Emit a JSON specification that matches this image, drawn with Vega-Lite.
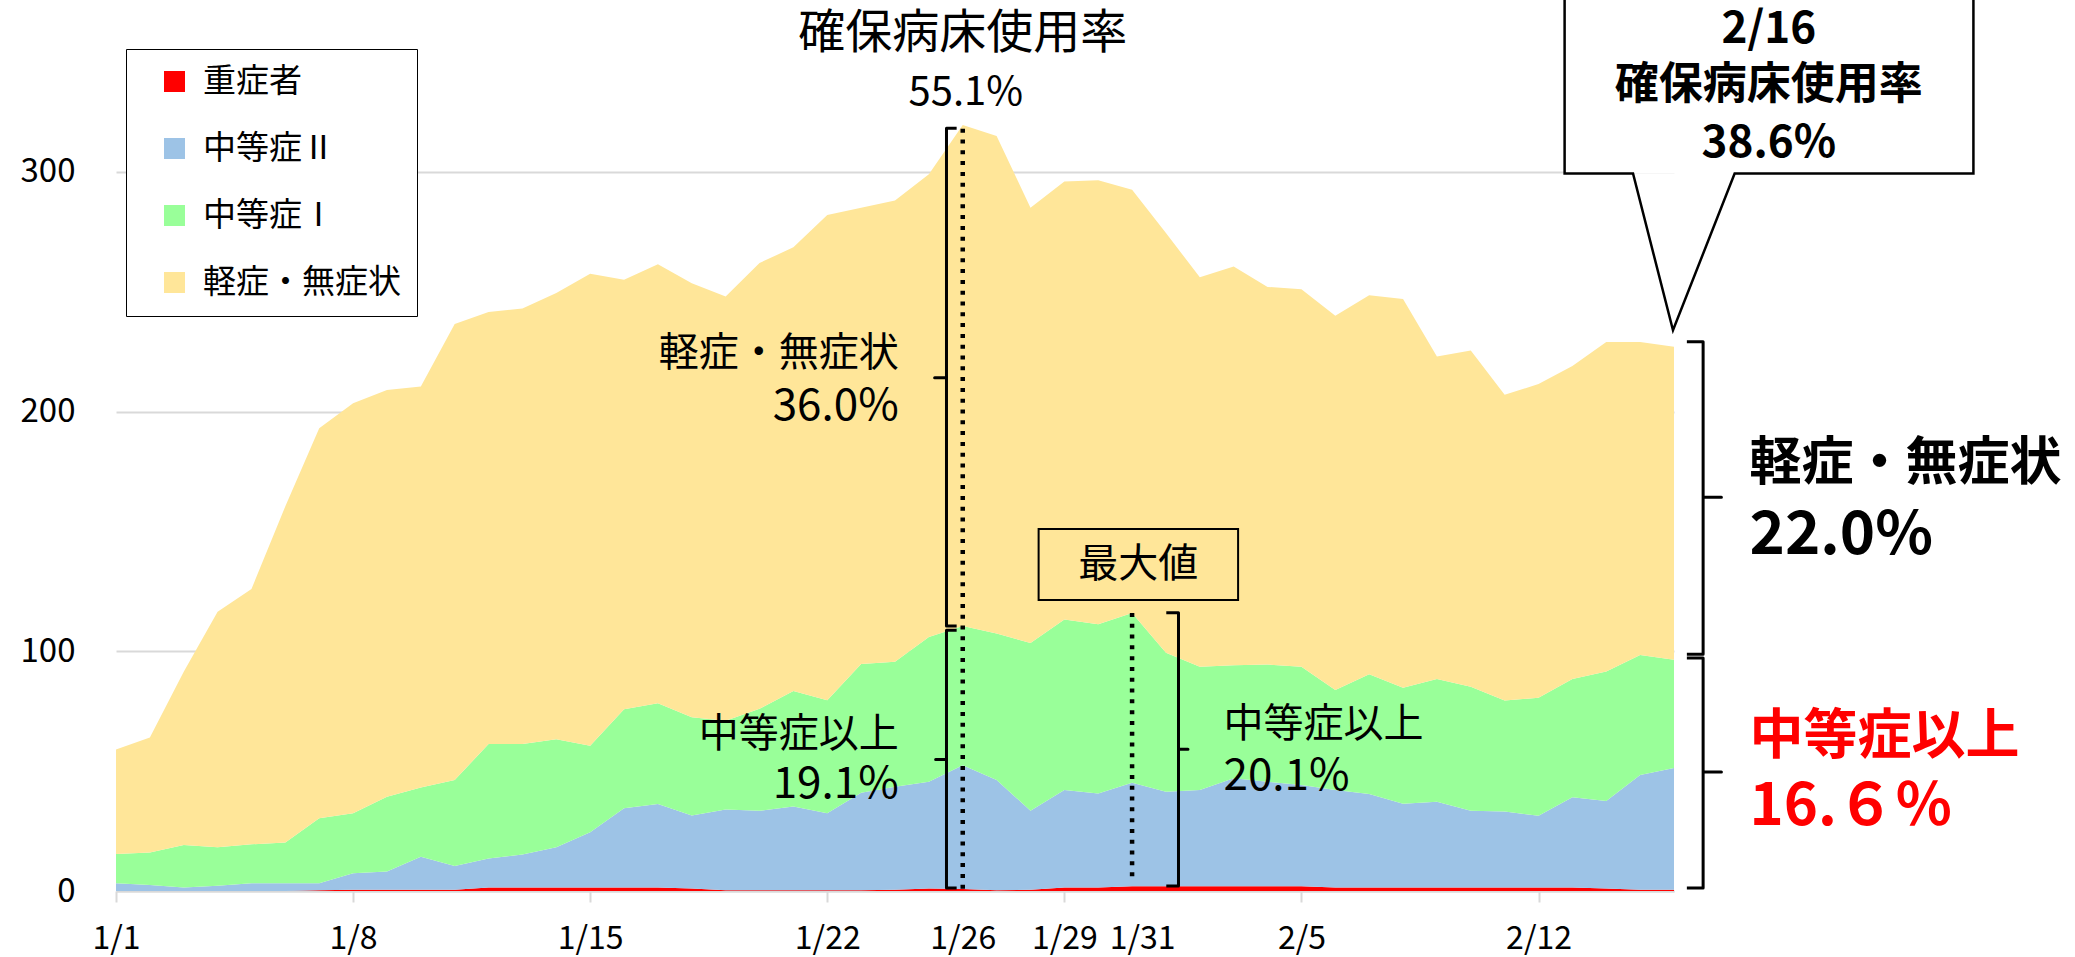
{
  "$schema": "https://vega.github.io/schema/vega-lite/v6.json",
  "width": 1558,
  "height": 839,
  "autosize": {"type": "none"},
  "padding": {"left": 116, "top": 52, "right": 401, "bottom": 66},
  "background": "white",
  "config": {
    "view": {"stroke": null},
    "font": "Noto Sans CJK JP"
  },
  "layer": [
    {
      "data": {"values": [
        {"date":"2022-01-01","category":"重症者","value":0},{"date":"2022-01-01","category":"中等症Ⅱ","value":3.2},{"date":"2022-01-01","category":"中等症Ⅰ","value":12.2},{"date":"2022-01-01","category":"軽症・無症状","value":43.6},
        {"date":"2022-01-02","category":"重症者","value":0},{"date":"2022-01-02","category":"中等症Ⅱ","value":2.5},{"date":"2022-01-02","category":"中等症Ⅰ","value":13.6},{"date":"2022-01-02","category":"軽症・無症状","value":47.9},
        {"date":"2022-01-03","category":"重症者","value":0},{"date":"2022-01-03","category":"中等症Ⅱ","value":1.5},{"date":"2022-01-03","category":"中等症Ⅰ","value":17.7},{"date":"2022-01-03","category":"軽症・無症状","value":72.3},
        {"date":"2022-01-04","category":"重症者","value":0},{"date":"2022-01-04","category":"中等症Ⅱ","value":2.2},{"date":"2022-01-04","category":"中等症Ⅰ","value":16.0},{"date":"2022-01-04","category":"軽症・無症状","value":98.3},
        {"date":"2022-01-05","category":"重症者","value":0},{"date":"2022-01-05","category":"中等症Ⅱ","value":3.2},{"date":"2022-01-05","category":"中等症Ⅰ","value":16.3},{"date":"2022-01-05","category":"軽症・無症状","value":106.5},
        {"date":"2022-01-06","category":"重症者","value":0},{"date":"2022-01-06","category":"中等症Ⅱ","value":3.2},{"date":"2022-01-06","category":"中等症Ⅰ","value":17.0},{"date":"2022-01-06","category":"軽症・無症状","value":140.3},
        {"date":"2022-01-07","category":"重症者","value":0.3},{"date":"2022-01-07","category":"中等症Ⅱ","value":2.9},{"date":"2022-01-07","category":"中等症Ⅰ","value":27.1},{"date":"2022-01-07","category":"軽症・無症状","value":162.7},
        {"date":"2022-01-08","category":"重症者","value":0.5},{"date":"2022-01-08","category":"中等症Ⅱ","value":6.9},{"date":"2022-01-08","category":"中等症Ⅰ","value":25.0},{"date":"2022-01-08","category":"軽症・無症状","value":171.1},
        {"date":"2022-01-09","category":"重症者","value":0.5},{"date":"2022-01-09","category":"中等症Ⅱ","value":7.6},{"date":"2022-01-09","category":"中等症Ⅰ","value":31.2},{"date":"2022-01-09","category":"軽症・無症状","value":169.7},
        {"date":"2022-01-10","category":"重症者","value":0.5},{"date":"2022-01-10","category":"中等症Ⅱ","value":13.8},{"date":"2022-01-10","category":"中等症Ⅰ","value":28.9},{"date":"2022-01-10","category":"軽症・無症状","value":167.3},
        {"date":"2022-01-11","category":"重症者","value":0.5},{"date":"2022-01-11","category":"中等症Ⅱ","value":9.9},{"date":"2022-01-11","category":"中等症Ⅰ","value":35.9},{"date":"2022-01-11","category":"軽症・無症状","value":190.2},
        {"date":"2022-01-12","category":"重症者","value":1.5},{"date":"2022-01-12","category":"中等症Ⅱ","value":12.1},{"date":"2022-01-12","category":"中等症Ⅰ","value":47.7},{"date":"2022-01-12","category":"軽症・無症状","value":180.2},
        {"date":"2022-01-13","category":"重症者","value":1.5},{"date":"2022-01-13","category":"中等症Ⅱ","value":13.7},{"date":"2022-01-13","category":"中等症Ⅰ","value":46.1},{"date":"2022-01-13","category":"軽症・無症状","value":181.7},
        {"date":"2022-01-14","category":"重症者","value":1.5},{"date":"2022-01-14","category":"中等症Ⅱ","value":16.7},{"date":"2022-01-14","category":"中等症Ⅰ","value":45.1},{"date":"2022-01-14","category":"軽症・無症状","value":186.2},
        {"date":"2022-01-15","category":"重症者","value":1.5},{"date":"2022-01-15","category":"中等症Ⅱ","value":23.0},{"date":"2022-01-15","category":"中等症Ⅰ","value":36.1},{"date":"2022-01-15","category":"軽症・無症状","value":196.9},
        {"date":"2022-01-16","category":"重症者","value":1.5},{"date":"2022-01-16","category":"中等症Ⅱ","value":33.0},{"date":"2022-01-16","category":"中等症Ⅰ","value":41.3},{"date":"2022-01-16","category":"軽症・無症状","value":179.2},
        {"date":"2022-01-17","category":"重症者","value":1.5},{"date":"2022-01-17","category":"中等症Ⅱ","value":34.8},{"date":"2022-01-17","category":"中等症Ⅰ","value":42.0},{"date":"2022-01-17","category":"軽症・無症状","value":183.2},
        {"date":"2022-01-18","category":"重症者","value":1.0},{"date":"2022-01-18","category":"中等症Ⅱ","value":30.5},{"date":"2022-01-18","category":"中等症Ⅰ","value":41.0},{"date":"2022-01-18","category":"軽症・無症状","value":181.0},
        {"date":"2022-01-19","category":"重症者","value":0.3},{"date":"2022-01-19","category":"中等症Ⅱ","value":33.7},{"date":"2022-01-19","category":"中等症Ⅰ","value":37.0},{"date":"2022-01-19","category":"軽症・無症状","value":177.0},
        {"date":"2022-01-20","category":"重症者","value":0.3},{"date":"2022-01-20","category":"中等症Ⅱ","value":33.2},{"date":"2022-01-20","category":"中等症Ⅰ","value":42.5},{"date":"2022-01-20","category":"軽症・無症状","value":186.0},
        {"date":"2022-01-21","category":"重症者","value":0.3},{"date":"2022-01-21","category":"中等症Ⅱ","value":35.0},{"date":"2022-01-21","category":"中等症Ⅰ","value":48.1},{"date":"2022-01-21","category":"軽症・無症状","value":185.1},
        {"date":"2022-01-22","category":"重症者","value":0.3},{"date":"2022-01-22","category":"中等症Ⅱ","value":32.1},{"date":"2022-01-22","category":"中等症Ⅰ","value":47.2},{"date":"2022-01-22","category":"軽症・無症状","value":202.4},
        {"date":"2022-01-23","category":"重症者","value":0.3},{"date":"2022-01-23","category":"中等症Ⅱ","value":40.7},{"date":"2022-01-23","category":"中等症Ⅰ","value":53.7},{"date":"2022-01-23","category":"軽症・無症状","value":190.3},
        {"date":"2022-01-24","category":"重症者","value":0.5},{"date":"2022-01-24","category":"中等症Ⅱ","value":43.0},{"date":"2022-01-24","category":"中等症Ⅰ","value":52.1},{"date":"2022-01-24","category":"軽症・無症状","value":192.4},
        {"date":"2022-01-25","category":"重症者","value":1.0},{"date":"2022-01-25","category":"中等症Ⅱ","value":44.6},{"date":"2022-01-25","category":"中等症Ⅰ","value":60.4},{"date":"2022-01-25","category":"軽症・無症状","value":193.0},
        {"date":"2022-01-26","category":"重症者","value":0.8},{"date":"2022-01-26","category":"中等症Ⅱ","value":51.7},{"date":"2022-01-26","category":"中等症Ⅰ","value":58.0},{"date":"2022-01-26","category":"軽症・無症状","value":209.0},
        {"date":"2022-01-27","category":"重症者","value":0.3},{"date":"2022-01-27","category":"中等症Ⅱ","value":46.0},{"date":"2022-01-27","category":"中等症Ⅰ","value":61.1},{"date":"2022-01-27","category":"軽症・無症状","value":207.6},
        {"date":"2022-01-28","category":"重症者","value":0.5},{"date":"2022-01-28","category":"中等症Ⅱ","value":33.0},{"date":"2022-01-28","category":"中等症Ⅰ","value":70.0},{"date":"2022-01-28","category":"軽症・無症状","value":181.5},
        {"date":"2022-01-29","category":"重症者","value":1.5},{"date":"2022-01-29","category":"中等症Ⅱ","value":40.6},{"date":"2022-01-29","category":"中等症Ⅰ","value":71.2},{"date":"2022-01-29","category":"軽症・無症状","value":182.7},
        {"date":"2022-01-30","category":"重症者","value":1.5},{"date":"2022-01-30","category":"中等症Ⅱ","value":39.2},{"date":"2022-01-30","category":"中等症Ⅰ","value":70.6},{"date":"2022-01-30","category":"軽症・無症状","value":185.2},
        {"date":"2022-01-31","category":"重症者","value":2.0},{"date":"2022-01-31","category":"中等症Ⅱ","value":43.2},{"date":"2022-01-31","category":"中等症Ⅰ","value":70.8},{"date":"2022-01-31","category":"軽症・無症状","value":176.5},
        {"date":"2022-02-01","category":"重症者","value":2.0},{"date":"2022-02-01","category":"中等症Ⅱ","value":39.4},{"date":"2022-02-01","category":"中等症Ⅰ","value":58.0},{"date":"2022-02-01","category":"軽症・無症状","value":175.1},
        {"date":"2022-02-02","category":"重症者","value":2.0},{"date":"2022-02-02","category":"中等症Ⅱ","value":40.1},{"date":"2022-02-02","category":"中等症Ⅰ","value":51.4},{"date":"2022-02-02","category":"軽症・無症状","value":162.5},
        {"date":"2022-02-03","category":"重症者","value":2.0},{"date":"2022-02-03","category":"中等症Ⅱ","value":45.0},{"date":"2022-02-03","category":"中等症Ⅰ","value":47.2},{"date":"2022-02-03","category":"軽症・無症状","value":166.3},
        {"date":"2022-02-04","category":"重症者","value":2.0},{"date":"2022-02-04","category":"中等症Ⅱ","value":43.6},{"date":"2022-02-04","category":"中等症Ⅰ","value":48.9},{"date":"2022-02-04","category":"軽症・無症状","value":157.5},
        {"date":"2022-02-05","category":"重症者","value":2.0},{"date":"2022-02-05","category":"中等症Ⅱ","value":42.2},{"date":"2022-02-05","category":"中等症Ⅰ","value":49.3},{"date":"2022-02-05","category":"軽症・無症状","value":157.5},
        {"date":"2022-02-06","category":"重症者","value":1.5},{"date":"2022-02-06","category":"中等症Ⅱ","value":40.6},{"date":"2022-02-06","category":"中等症Ⅰ","value":41.7},{"date":"2022-02-06","category":"軽症・無症状","value":156.2},
        {"date":"2022-02-07","category":"重症者","value":1.5},{"date":"2022-02-07","category":"中等症Ⅱ","value":39.0},{"date":"2022-02-07","category":"中等症Ⅰ","value":49.9},{"date":"2022-02-07","category":"軽症・無症状","value":158.1},
        {"date":"2022-02-08","category":"重症者","value":1.5},{"date":"2022-02-08","category":"中等症Ⅱ","value":34.9},{"date":"2022-02-08","category":"中等症Ⅰ","value":48.4},{"date":"2022-02-08","category":"軽症・無症状","value":162.2},
        {"date":"2022-02-09","category":"重症者","value":1.5},{"date":"2022-02-09","category":"中等症Ⅱ","value":35.7},{"date":"2022-02-09","category":"中等症Ⅰ","value":51.2},{"date":"2022-02-09","category":"軽症・無症状","value":134.6},
        {"date":"2022-02-10","category":"重症者","value":1.5},{"date":"2022-02-10","category":"中等症Ⅱ","value":32.0},{"date":"2022-02-10","category":"中等症Ⅰ","value":51.7},{"date":"2022-02-10","category":"軽症・無症状","value":140.3},
        {"date":"2022-02-11","category":"重症者","value":1.5},{"date":"2022-02-11","category":"中等症Ⅱ","value":31.7},{"date":"2022-02-11","category":"中等症Ⅰ","value":46.3},{"date":"2022-02-11","category":"軽症・無症状","value":127.5},
        {"date":"2022-02-12","category":"重症者","value":1.5},{"date":"2022-02-12","category":"中等症Ⅱ","value":29.9},{"date":"2022-02-12","category":"中等症Ⅰ","value":49.2},{"date":"2022-02-12","category":"軽症・無症状","value":130.9},
        {"date":"2022-02-13","category":"重症者","value":1.5},{"date":"2022-02-13","category":"中等症Ⅱ","value":37.6},{"date":"2022-02-13","category":"中等症Ⅰ","value":49.3},{"date":"2022-02-13","category":"軽症・無症状","value":130.6},
        {"date":"2022-02-14","category":"重症者","value":1.0},{"date":"2022-02-14","category":"中等症Ⅱ","value":36.5},{"date":"2022-02-14","category":"中等症Ⅰ","value":54.1},{"date":"2022-02-14","category":"軽症・無症状","value":137.4},
        {"date":"2022-02-15","category":"重症者","value":0.5},{"date":"2022-02-15","category":"中等症Ⅱ","value":47.9},{"date":"2022-02-15","category":"中等症Ⅰ","value":50.0},{"date":"2022-02-15","category":"軽症・無症状","value":130.6},
        {"date":"2022-02-16","category":"重症者","value":0.5},{"date":"2022-02-16","category":"中等症Ⅱ","value":50.8},{"date":"2022-02-16","category":"中等症Ⅰ","value":45.2},{"date":"2022-02-16","category":"軽症・無症状","value":130.5}
      ]},
      "transform": [
        {"calculate": "indexof(['重症者','中等症Ⅱ','中等症Ⅰ','軽症・無症状'], datum.category)", "as": "stackOrder"}
      ],
      "mark": {"type": "area", "interpolate": "linear", "opacity": 1, "strokeWidth": 0},
      "encoding": {
        "x": {
          "field": "date", "type": "temporal", "title": null,
          "scale": {"type": "utc", "nice": false, "domain": [{"year": 2022, "month": 1, "date": 1, "utc": true}, {"year": 2022, "month": 2, "date": 16, "utc": true}]},
          "axis": {
            "title": null,
            "values": [
              {"year": 2022, "month": 1, "date": 1, "utc": true},
              {"year": 2022, "month": 1, "date": 8, "utc": true},
              {"year": 2022, "month": 1, "date": 15, "utc": true},
              {"year": 2022, "month": 1, "date": 22, "utc": true},
              {"year": 2022, "month": 1, "date": 26, "utc": true},
              {"year": 2022, "month": 1, "date": 29, "utc": true},
              {"year": 2022, "month": 1, "date": 31, "utc": true},
              {"year": 2022, "month": 2, "date": 5, "utc": true},
              {"year": 2022, "month": 2, "date": 12, "utc": true}
            ],
            "labelExpr": "utcFormat(datum.value, '%-m/%-d')",
            "grid": false,
            "domain": true,
            "domainColor": "#D9D9D9",
            "domainWidth": 2,
            "tickColor": "#D9D9D9",
            "tickSize": 11,
            "tickWidth": 2,
            "tickOpacity": {"condition": {"test": "utcdate(datum.value) == 26 || utcdate(datum.value) == 31", "value": 0}, "value": 1},
            "labelOffset": {"condition": {"test": "utcdate(datum.value) == 31", "value": 10}, "value": 0},
            "labelFontSize": 32,
            "labelColor": "black",
            "labelPadding": 21,
            "labelOverlap": false,
            "labelFlush": false
          }
        },
        "y": {
          "field": "value", "type": "quantitative", "stack": "zero", "title": null,
          "scale": {"domain": [0, 350], "nice": false, "zero": true},
          "axis": {
            "title": null,
            "values": [0, 100, 200, 300],
            "domain": false,
            "ticks": false,
            "tickSize": 0,
            "labelFontSize": 33,
            "labelColor": "black",
            "labelPadding": 41,
            "gridColor": "#D9D9D9",
            "gridWidth": 2
          }
        },
        "color": {
          "field": "category", "type": "nominal",
          "scale": {"domain": ["重症者", "中等症Ⅱ", "中等症Ⅰ", "軽症・無症状"], "range": ["#FF0000", "#9DC3E6", "#99FF99", "#FFE699"]},
          "legend": {
            "title": null,
            "orient": "none",
            "legendX": 10,
            "legendY": -3,
            "symbolType": "square",
            "symbolSize": 441,
            "symbolStrokeWidth": 0,
            "symbolOpacity": 1,
            "labelFontSize": 33,
            "labelColor": "black",
            "labelLimit": 400,
            "padding": 16,
            "symbolOffset": 16,
            "labelOffset": 12,
            "rowPadding": 33,
            "fillColor": "white",
            "strokeColor": "black"
          }
        },
        "order": {"field": "stackOrder", "type": "quantitative"}
      }
    },
    {
      "data": {"values": [
        {"date": "2022-02-12T18:29:00Z", "date2": "2022-02-24T20:10:00Z", "value": 299.3, "value2": 385}
      ]},
      "mark": {"type": "rect", "color": "white", "opacity": 1},
      "encoding": {
        "x": {"field": "date", "type": "temporal", "title": null},
        "x2": {"field": "date2"},
        "y": {"field": "value", "type": "quantitative", "title": null},
        "y2": {"field": "value2"}
      }
    },
    {
      "data": {"values": [
        {"seq": 1, "date": "2022-02-12T18:29:00Z", "value": 385},
        {"seq": 2, "date": "2022-02-12T18:29:00Z", "value": 299.3},
        {"seq": 3, "date": "2022-02-14T18:58:00Z", "value": 299.3},
        {"seq": 4, "date": "2022-02-15T23:17:00Z", "value": 233.9},
        {"seq": 5, "date": "2022-02-17T18:58:00Z", "value": 299.3},
        {"seq": 6, "date": "2022-02-24T20:10:00Z", "value": 299.3},
        {"seq": 7, "date": "2022-02-24T20:10:00Z", "value": 385}
      ]},
      "mark": {"type": "line", "color": "black", "strokeWidth": 2.5, "strokeJoin": "miter"},
      "encoding": {
        "x": {"field": "date", "type": "temporal", "title": null},
        "y": {"field": "value", "type": "quantitative", "title": null},
        "order": {"field": "seq", "type": "quantitative"}
      }
    },
    {
      "data": {"values": [
        {"date": "2022-01-26", "top": 318, "bottom": 0.5},
        {"date": "2022-01-31", "top": 116, "bottom": 4.5}
      ]},
      "mark": {"type": "rule", "color": "black", "strokeWidth": 4.5, "strokeDash": [4, 6.8]},
      "encoding": {
        "x": {"field": "date", "type": "temporal", "title": null},
        "y": {"field": "top", "type": "quantitative", "title": null},
        "y2": {"field": "bottom"}
      }
    },
    {
      "data": {"values": [
        {"id": "a", "seq": 1, "date": "2022-01-25T19:41:00Z", "value": 318.2},
        {"id": "a", "seq": 2, "date": "2022-01-25T12:29:00Z", "value": 318.2},
        {"id": "a", "seq": 3, "date": "2022-01-25T12:29:00Z", "value": 214.1},
        {"id": "a", "seq": 4, "date": "2022-01-25T04:05:00Z", "value": 214.1},
        {"id": "a", "seq": 5, "date": "2022-01-25T12:29:00Z", "value": 214.1},
        {"id": "a", "seq": 6, "date": "2022-01-25T12:29:00Z", "value": 110.5},
        {"id": "a", "seq": 7, "date": "2022-01-25T19:41:00Z", "value": 110.5},
        {"id": "b", "seq": 1, "date": "2022-01-25T19:41:00Z", "value": 108.8},
        {"id": "b", "seq": 2, "date": "2022-01-25T12:29:00Z", "value": 108.8},
        {"id": "b", "seq": 3, "date": "2022-01-25T12:29:00Z", "value": 54.9},
        {"id": "b", "seq": 4, "date": "2022-01-25T04:48:00Z", "value": 54.9},
        {"id": "b", "seq": 5, "date": "2022-01-25T12:29:00Z", "value": 54.9},
        {"id": "b", "seq": 6, "date": "2022-01-25T12:29:00Z", "value": 1.3},
        {"id": "b", "seq": 7, "date": "2022-01-25T19:41:00Z", "value": 1.3},
        {"id": "c", "seq": 1, "date": "2022-02-01T00:14:00Z", "value": 116.1},
        {"id": "c", "seq": 2, "date": "2022-02-01T08:53:00Z", "value": 116.1},
        {"id": "c", "seq": 3, "date": "2022-02-01T08:53:00Z", "value": 59.1},
        {"id": "c", "seq": 4, "date": "2022-02-01T15:36:00Z", "value": 59.1},
        {"id": "c", "seq": 5, "date": "2022-02-01T08:53:00Z", "value": 59.1},
        {"id": "c", "seq": 6, "date": "2022-02-01T08:53:00Z", "value": 2.1},
        {"id": "c", "seq": 7, "date": "2022-02-01T00:14:00Z", "value": 2.1},
        {"id": "d", "seq": 1, "date": "2022-02-16T09:07:00Z", "value": 229.1},
        {"id": "d", "seq": 2, "date": "2022-02-16T20:38:00Z", "value": 229.1},
        {"id": "d", "seq": 3, "date": "2022-02-16T20:38:00Z", "value": 164.3},
        {"id": "d", "seq": 4, "date": "2022-02-17T09:36:00Z", "value": 164.3},
        {"id": "d", "seq": 5, "date": "2022-02-16T20:38:00Z", "value": 164.3},
        {"id": "d", "seq": 6, "date": "2022-02-16T20:38:00Z", "value": 98.8},
        {"id": "d", "seq": 7, "date": "2022-02-16T09:07:00Z", "value": 98.8},
        {"id": "e", "seq": 1, "date": "2022-02-16T09:07:00Z", "value": 97.2},
        {"id": "e", "seq": 2, "date": "2022-02-16T20:38:00Z", "value": 97.2},
        {"id": "e", "seq": 3, "date": "2022-02-16T20:38:00Z", "value": 49.6},
        {"id": "e", "seq": 4, "date": "2022-02-17T09:36:00Z", "value": 49.6},
        {"id": "e", "seq": 5, "date": "2022-02-16T20:38:00Z", "value": 49.6},
        {"id": "e", "seq": 6, "date": "2022-02-16T20:38:00Z", "value": 1.3},
        {"id": "e", "seq": 7, "date": "2022-02-16T09:07:00Z", "value": 1.3}
      ]},
      "mark": {"type": "line", "color": "black", "strokeWidth": 3, "strokeJoin": "round"},
      "encoding": {
        "x": {"field": "date", "type": "temporal", "title": null},
        "y": {"field": "value", "type": "quantitative", "title": null},
        "detail": {"field": "id", "type": "nominal"},
        "order": {"field": "seq", "type": "quantitative"}
      }
    },
    {
      "data": {"values": [
        {"date": "2022-01-28T05:46:00Z", "date2": "2022-02-03T03:07:00Z", "value": 151.0, "value2": 121.4}
      ]},
      "mark": {"type": "rect", "filled": false, "color": "black", "strokeWidth": 2},
      "encoding": {
        "x": {"field": "date", "type": "temporal", "title": null},
        "x2": {"field": "date2"},
        "y": {"field": "value", "type": "quantitative", "title": null},
        "y2": {"field": "value2"}
      }
    },
    {
      "data": {"values": [
        {"date": "2022-01-31T04:19:00Z", "value": 136.0, "text": "最大値"}
      ]},
      "mark": {"type": "text", "align": "center", "baseline": "middle", "fontSize": 40, "color": "black"},
      "encoding": {
        "x": {"field": "date", "type": "temporal", "title": null},
        "y": {"field": "value", "type": "quantitative", "title": null},
        "text": {"field": "text"}
      }
    },
    {
      "data": {"values": [
        {"date": "2022-01-24T02:38:00Z", "value": 224.0, "text": "軽症・無症状"},
        {"date": "2022-01-24T02:38:00Z", "value": 65.1, "text": "中等症以上"}
      ]},
      "mark": {"type": "text", "align": "right", "baseline": "middle", "fontSize": 40, "color": "black"},
      "encoding": {
        "x": {"field": "date", "type": "temporal", "title": null},
        "y": {"field": "value", "type": "quantitative", "title": null},
        "text": {"field": "text"}
      }
    },
    {
      "data": {"values": [
        {"date": "2022-01-24T02:38:00Z", "value": 202.0, "text": "36.0%"},
        {"date": "2022-01-24T02:38:00Z", "value": 44.2, "text": "19.1%"}
      ]},
      "mark": {"type": "text", "align": "right", "baseline": "middle", "fontSize": 44, "color": "black"},
      "encoding": {
        "x": {"field": "date", "type": "temporal", "title": null},
        "y": {"field": "value", "type": "quantitative", "title": null},
        "text": {"field": "text"}
      }
    },
    {
      "data": {"values": [
        {"date": "2022-02-02T16:48:00Z", "value": 69.2, "text": "中等症以上"}
      ]},
      "mark": {"type": "text", "align": "left", "baseline": "middle", "fontSize": 40, "color": "black"},
      "encoding": {
        "x": {"field": "date", "type": "temporal", "title": null},
        "y": {"field": "value", "type": "quantitative", "title": null},
        "text": {"field": "text"}
      }
    },
    {
      "data": {"values": [
        {"date": "2022-02-02T16:48:00Z", "value": 47.7, "text": "20.1%"}
      ]},
      "mark": {"type": "text", "align": "left", "baseline": "middle", "fontSize": 44, "color": "black"},
      "encoding": {
        "x": {"field": "date", "type": "temporal", "title": null},
        "y": {"field": "value", "type": "quantitative", "title": null},
        "text": {"field": "text"}
      }
    },
    {
      "data": {"values": [
        {"date": "2022-01-26T00:00:00Z", "value": 357.5, "text": "確保病床使用率"}
      ]},
      "mark": {"type": "text", "align": "center", "baseline": "middle", "fontSize": 47, "color": "black"},
      "encoding": {
        "x": {"field": "date", "type": "temporal", "title": null},
        "y": {"field": "value", "type": "quantitative", "title": null},
        "text": {"field": "text"}
      }
    },
    {
      "data": {"values": [
        {"date": "2022-01-26T02:10:00Z", "value": 332.9, "text": "55.1%"}
      ]},
      "mark": {"type": "text", "align": "center", "baseline": "middle", "fontSize": 40, "color": "black"},
      "encoding": {
        "x": {"field": "date", "type": "temporal", "title": null},
        "y": {"field": "value", "type": "quantitative", "title": null},
        "text": {"field": "text"}
      }
    },
    {
      "data": {"values": [
        {"date": "2022-02-18T19:12:00Z", "value": 359.2, "text": "2/16"},
        {"date": "2022-02-18T19:12:00Z", "value": 335.8, "text": "確保病床使用率"},
        {"date": "2022-02-18T19:12:00Z", "value": 311.6, "text": "38.6%"}
      ]},
      "mark": {"type": "text", "align": "center", "baseline": "middle", "fontSize": 44, "fontWeight": "bold", "color": "black"},
      "encoding": {
        "x": {"field": "date", "type": "temporal", "title": null},
        "y": {"field": "value", "type": "quantitative", "title": null},
        "text": {"field": "text"}
      }
    },
    {
      "data": {"values": [
        {"date": "2022-02-18T05:31:00Z", "value": 178.1, "text": "軽症・無症状"}
      ]},
      "mark": {"type": "text", "align": "left", "baseline": "middle", "fontSize": 52, "fontWeight": "bold", "color": "black"},
      "encoding": {
        "x": {"field": "date", "type": "temporal", "title": null},
        "y": {"field": "value", "type": "quantitative", "title": null},
        "text": {"field": "text"}
      }
    },
    {
      "data": {"values": [
        {"date": "2022-02-18T05:31:00Z", "value": 148.1, "text": "22.0%"}
      ]},
      "mark": {"type": "text", "align": "left", "baseline": "middle", "fontSize": 60, "fontWeight": "bold", "color": "black"},
      "encoding": {
        "x": {"field": "date", "type": "temporal", "title": null},
        "y": {"field": "value", "type": "quantitative", "title": null},
        "text": {"field": "text"}
      }
    },
    {
      "data": {"values": [
        {"date": "2022-02-18T05:31:00Z", "value": 63.8, "text": "中等症以上"}
      ]},
      "mark": {"type": "text", "align": "left", "baseline": "middle", "fontSize": 54, "fontWeight": "bold", "color": "#FF0000"},
      "encoding": {
        "x": {"field": "date", "type": "temporal", "title": null},
        "y": {"field": "value", "type": "quantitative", "title": null},
        "text": {"field": "text"}
      }
    },
    {
      "data": {"values": [
        {"date": "2022-02-18T05:31:00Z", "value": 34.6, "text": "16.６％"}
      ]},
      "mark": {"type": "text", "align": "left", "baseline": "middle", "fontSize": 58, "fontWeight": "bold", "color": "#FF0000"},
      "encoding": {
        "x": {"field": "date", "type": "temporal", "title": null},
        "y": {"field": "value", "type": "quantitative", "title": null},
        "text": {"field": "text"}
      }
    }
  ]
}
